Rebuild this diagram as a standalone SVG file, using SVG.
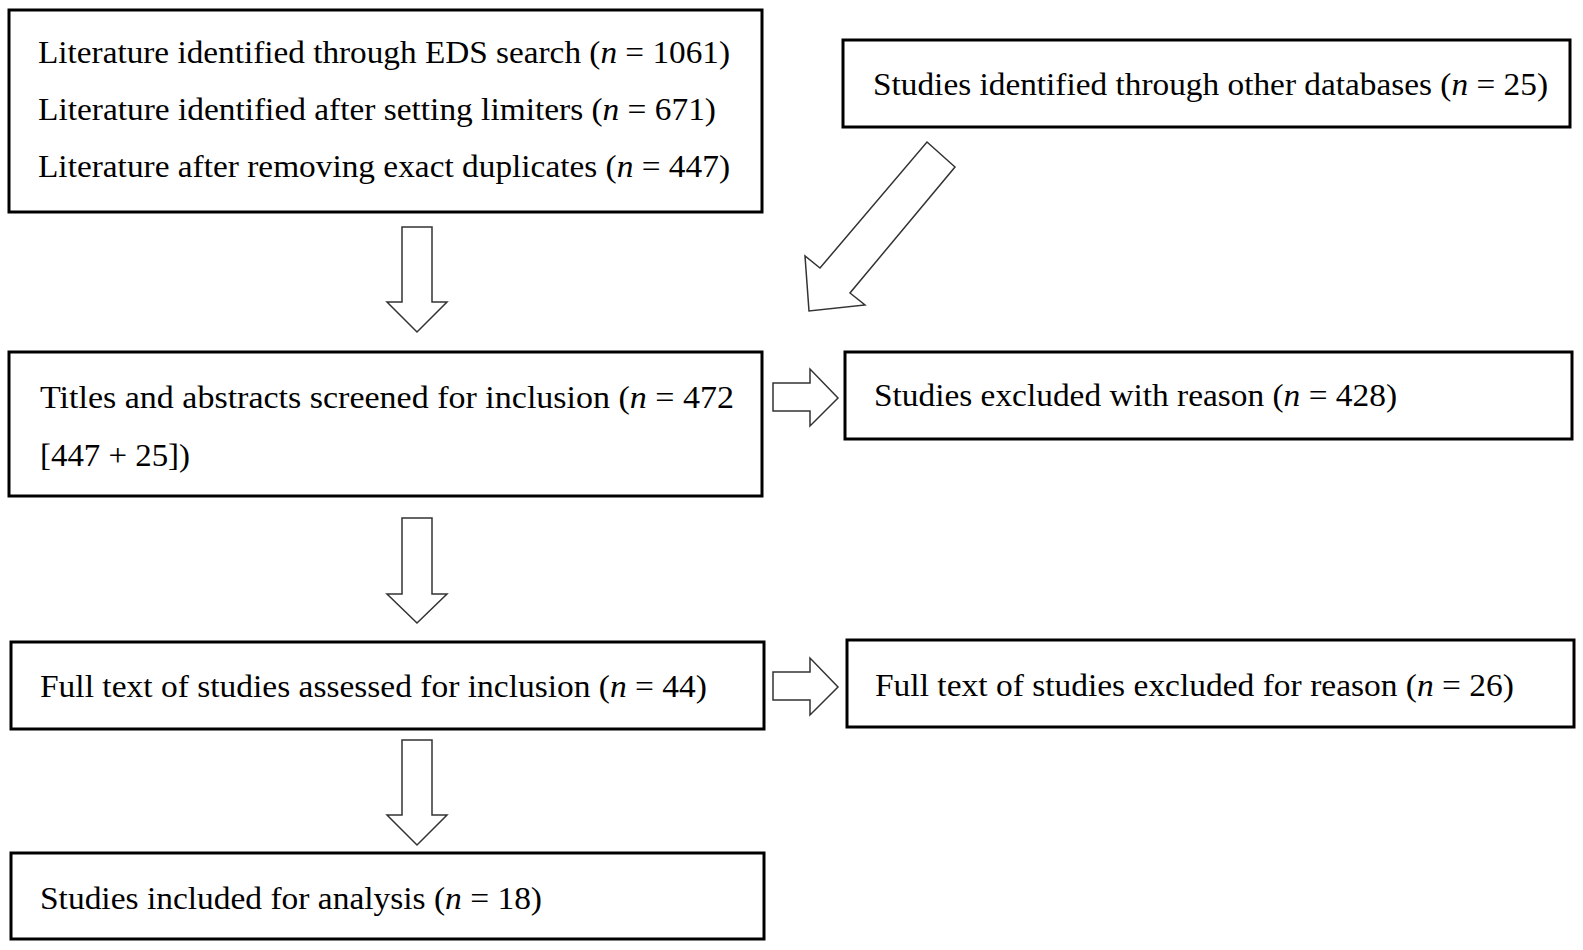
<svg xmlns="http://www.w3.org/2000/svg" width="1583" height="950" viewBox="0 0 1583 950">
<style>
.box{fill:#fff;stroke:#000;stroke-width:3}
.t{font-family:"Liberation Serif","Times New Roman",serif;font-size:32px;fill:#000}
.i{font-style:italic}
.arr{fill:#fff;stroke:#333;stroke-width:1.5;stroke-linejoin:miter}
</style>
<rect width="1583" height="950" fill="#fff"/>
<g id="connectors">
<polygon class="arr" points="402,227 432,227 432,302 447,302 417,332 387,302 402,302"/>
<polygon class="arr" points="402,518 432,518 432,594 447,594 417,623 387,594 402,594"/>
<polygon class="arr" points="402,740 432,740 432,815 447,815 417,845 387,815 402,815"/>
<polygon class="arr" points="773,383 810,383 810,369 838,398 810,426 810,411 773,411"/>
<polygon class="arr" points="773,672 810,672 810,658 838,687 810,715 810,700 773,700"/>
<polygon class="arr" points="927,142 955,167 850,293 865,305 809,311 805,256 820,268"/>
</g>
<g id="n1">
<rect class="box" x="9" y="10" width="753" height="202"/>
<text class="t" x="38" y="63" textLength="692" lengthAdjust="spacingAndGlyphs">Literature identified through EDS search (<tspan class="i">n</tspan> = 1061)</text>
<text class="t" x="38" y="120" textLength="678" lengthAdjust="spacingAndGlyphs">Literature identified after setting limiters (<tspan class="i">n</tspan> = 671)</text>
<text class="t" x="38" y="177" textLength="692" lengthAdjust="spacingAndGlyphs">Literature after removing exact duplicates (<tspan class="i">n</tspan> = 447)</text>
</g>
<g id="n2">
<rect class="box" x="843" y="40" width="727" height="87"/>
<text class="t" x="873" y="95" textLength="675" lengthAdjust="spacingAndGlyphs">Studies identified through other databases (<tspan class="i">n</tspan> = 25)</text>
</g>
<g id="n3">
<rect class="box" x="9" y="352" width="753" height="144"/>
<text class="t" x="40" y="408" textLength="694" lengthAdjust="spacingAndGlyphs">Titles and abstracts screened for inclusion (<tspan class="i">n</tspan> = 472</text>
<text class="t" x="40" y="466" textLength="150" lengthAdjust="spacingAndGlyphs">[447 + 25])</text>
</g>
<g id="n4">
<rect class="box" x="845" y="352" width="727" height="87"/>
<text class="t" x="874" y="406" textLength="523" lengthAdjust="spacingAndGlyphs">Studies excluded with reason (<tspan class="i">n</tspan> = 428)</text>
</g>
<g id="n5">
<rect class="box" x="11" y="642" width="753" height="87"/>
<text class="t" x="40" y="697" textLength="667" lengthAdjust="spacingAndGlyphs">Full text of studies assessed for inclusion (<tspan class="i">n</tspan> = 44)</text>
</g>
<g id="n6">
<rect class="box" x="847" y="640" width="727" height="87"/>
<text class="t" x="875" y="696" textLength="639" lengthAdjust="spacingAndGlyphs">Full text of studies excluded for reason (<tspan class="i">n</tspan> = 26)</text>
</g>
<g id="n7">
<rect class="box" x="11" y="853" width="753" height="86"/>
<text class="t" x="40" y="909" textLength="502" lengthAdjust="spacingAndGlyphs">Studies included for analysis (<tspan class="i">n</tspan> = 18)</text>
</g>
</svg>
